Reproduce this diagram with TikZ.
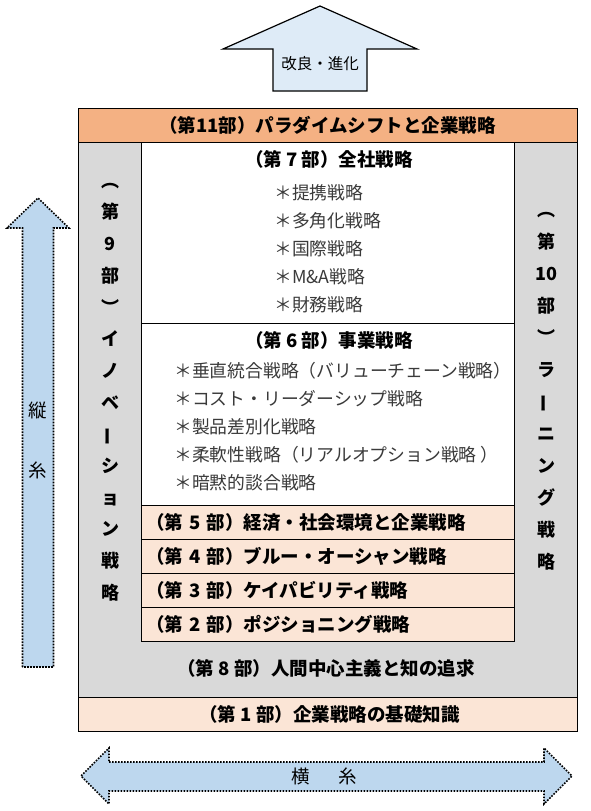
\documentclass[tikz,border=0pt]{standalone}
\usepackage{fontspec}
\setmainfont{Noto Sans CJK JP}
\usetikzlibrary{positioning}
\definecolor{bandorange}{HTML}{F4B183}
\definecolor{peach}{HTML}{FBE5D6}
\definecolor{sidegray}{HTML}{D9D9D9}
\definecolor{arrowblue}{HTML}{BDD7EE}
\definecolor{paleblue}{HTML}{DEEBF7}
\definecolor{itemgray}{HTML}{3A3A3A}
\newcommand{\titlefont}{\fontsize{18.5}{22}\selectfont\bfseries}
\newcommand{\itemfont}{\fontsize{17.8}{28}\selectfont}
\newcommand{\vbar}{\rotatebox[origin=c]{90}{ー}}
\tikzset{
  band/.style={draw=black, line width=1pt, inner sep=0pt, minimum width=499pt, minimum height=34pt, font=\titlefont},
  inbox/.style={draw=black, line width=1pt, fill=white, inner sep=0pt, minimum width=373pt},
  rowbox/.style={draw=black, line width=1pt, fill=peach, minimum height=34pt, text width=363pt, inner xsep=5pt, inner ysep=0pt, align=left, font=\titlefont},
  sidetext/.style={align=center, inner sep=0pt, font=\fontsize{18}{31.7}\selectfont\bfseries},
  itemlist/.style={align=left, inner sep=0pt, anchor=north west, text=itemgray, font=\itemfont},
  flowarrow/.style={draw=black, line width=1.6pt, fill=arrowblue, dash pattern=on 1.6pt off 1.4pt},
  uparrow/.style={draw=black, line width=1.2pt, fill=paleblue, line join=miter}
}
\begin{document}
\begin{tikzpicture}[x=1pt, y=-1pt]
  \useasboundingbox (0,0) rectangle (591,811);

  % improvement arrow
  \draw[uparrow] (273,91) -- (273,49) -- (223,49) -- (320,6) -- (417,49) -- (367,49) -- (367,91) -- cycle;
  \node[font=\fontsize{15.5}{18}\selectfont] (kairyo) at (320,64) {改良・進化};

  % frame
  \node[band, fill=sidegray, minimum height=555pt] (frame) at (327.5,419.5) {};
  \node[band, fill=bandorange] (part11) at (327.5,125) {（第11部）パラダイムシフトと企業戦略};
  \node[band, fill=peach] (part1) at (327.5,714) {\hspace{4pt}（第 1 部）企業戦略の基礎知識};

  % center column
  \node[inbox, minimum height=181pt] (part7) at (327.5,232.5) {};
  \node[font=\titlefont] (part7title) at (329,159) {（第 7 部）全社戦略};
  \node[itemlist] (part7items) at (274,184) {＊提携戦略\\＊多角化戦略\\＊国際戦略\\＊M\&A戦略\\＊財務戦略};

  \node[inbox, minimum height=182pt] (part6) at (327.5,414) {};
  \node[font=\titlefont] (part6title) at (329,340) {（第 6 部）事業戦略};
  \node[itemlist] (part6items) at (174,362) {＊垂直統合戦略（バリューチェーン戦略）\\＊コスト・リーダーシップ戦略\\＊製品差別化戦略\\＊柔軟性戦略（リアルオプション戦略 ）\\＊暗黙的談合戦略};

  \node[rowbox] (part5) at (327.5,522) {（第 5 部）経済・社会環境と企業戦略};
  \node[rowbox] (part4) at (327.5,556) {（第 4 部）ブルー・オーシャン戦略};
  \node[rowbox] (part3) at (327.5,590) {（第 3 部）ケイパビリティ戦略};
  \node[rowbox] (part2) at (327.5,624) {（第 2 部）ポジショニング戦略};

  \node[font=\titlefont] (part8) at (326,668) {（第 8 部）人間中心主義と知の追求};

  % side columns
  \node[sidetext] (part9) at (110,392) {︵\\第\\9\\部\\︶\\イ\\ノ\\ベ\\\vbar\\シ\\ョ\\ン\\戦\\略};
  \node[sidetext, font=\fontsize{18}{32}\selectfont\bfseries] (part10) at (546,391) {︵\\第\\10\\部\\︶\\ラ\\\vbar\\ニ\\ン\\グ\\戦\\略};

  % warp and weft
  \draw[flowarrow] (22.5,667) -- (22.5,228) -- (7,228) -- (38,198) -- (69,228) -- (53.5,228) -- (53.5,667) -- cycle;
  \node[align=center, font=\fontsize{18.5}{60}\selectfont] (tateito) at (38,440) {縦\\糸};
  \draw[flowarrow] (109,762) -- (544,762) -- (544,748) -- (572,776) -- (544,804) -- (544,791) -- (109,791) -- (109,804) -- (81,776) -- (109,748) -- cycle;
  \node[font=\fontsize{18.5}{20}\selectfont] (yokoito) at (324,776) {横\hspace{29pt}糸};
\end{tikzpicture}
\end{document}
